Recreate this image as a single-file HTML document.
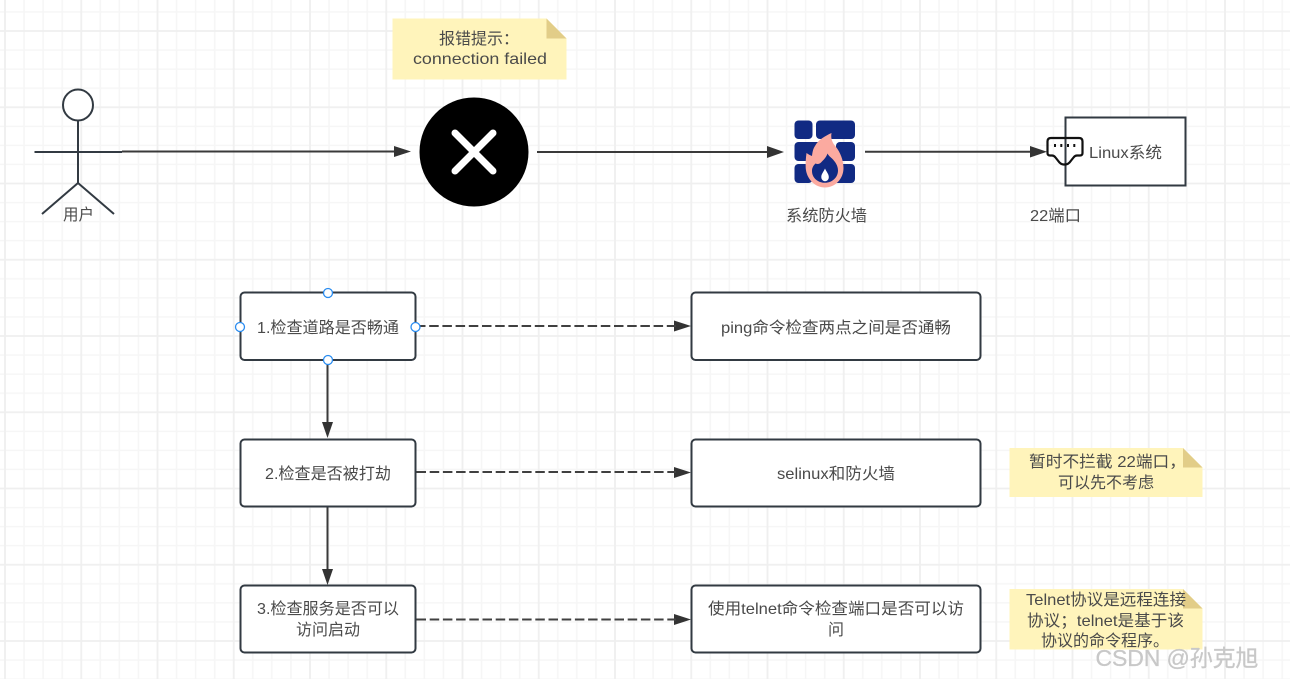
<!DOCTYPE html>
<html><head><meta charset="utf-8">
<style>
html,body{margin:0;padding:0;background:#fff;width:1290px;height:679px;overflow:hidden}
svg{display:block}
text{font-family:"Liberation Sans","Noto Sans CJK SC",sans-serif;font-size:16px;fill:#4a4a4a;text-anchor:middle}
</style></head><body>
<svg width="1290" height="679" viewBox="0 0 1290 679" xmlns="http://www.w3.org/2000/svg">
<defs>
<pattern id="g" x="5" y="31" width="76.25" height="76.25" patternUnits="userSpaceOnUse">
<path d="M19.06 0V76.25M38.12 0V76.25M57.19 0V76.25M0 19.06H76.25M0 38.12H76.25M0 57.19H76.25" stroke="#f6f6f6" stroke-width="1.6" fill="none"/>
<path d="M0 0V76.25M76.25 0V76.25M0 0H76.25M0 76.25H76.25" stroke="#efefef" stroke-width="1.8" fill="none"/>
</pattern>
</defs>
<rect width="1290" height="679" fill="#fff"/>
<rect width="1290" height="679" fill="url(#g)"/>

<!-- actor -->
<g fill="none" stroke="#323a42" stroke-width="2">
<ellipse cx="78" cy="105" rx="15" ry="15.5" fill="#fff"/>
<path d="M78 120.500V183M34.500 152H122M78 183L42 214M78 183L114 214"/>
</g>
<text x="78.500" y="220" textLength="31" lengthAdjust="spacingAndGlyphs">用户</text>

<!-- solid arrows -->
<g stroke="#3a3a3a" stroke-width="2" fill="none">
<path d="M122 151.500H396"/><path d="M537 152H769"/><path d="M865 151.700H1032"/>
<path d="M327.500 360V423"/><path d="M327.500 507V570"/>
</g>
<g fill="#333">
<path d="M394 146L411 151.500L394 157Z"/>
<path d="M767 146L784 152L767 158Z"/>
<path d="M1030 146L1047 151.700L1030 157.500Z"/>
<path d="M322 422H333L327.500 438Z"/>
<path d="M322 569H333L327.500 585Z"/>
<path d="M674 320.500L691 326L674 331.500Z"/>
<path d="M674 467L691 472.500L674 478Z"/>
<path d="M674 614L691 619.500L674 625Z"/>
</g>
<g stroke="#404040" stroke-width="2" fill="none" stroke-dasharray="9.500 3.700">
<path d="M416 326H676"/><path d="M416.500 472H676"/><path d="M416.500 619.500H676"/>
</g>

<!-- note top -->
<path d="M392.500 18.500H546.500L566.500 38.500V79.500H392.500Z" fill="#fff4bb"/>
<path d="M546.500 18.500L566.500 38.500H546.500Z" fill="#e2cd88"/>
<text x="479" y="44" textLength="80" lengthAdjust="spacingAndGlyphs">报错提示&#xFF1A;</text>
<text x="480" y="64" textLength="134" lengthAdjust="spacingAndGlyphs">connection failed</text>

<!-- X circle -->
<circle cx="474" cy="152" r="54.500" fill="#000"/>
<path d="M455 133L493 171M493 133L455 171" stroke="#fff" stroke-width="7" stroke-linecap="round"/>

<!-- firewall -->
<g fill="#112a83">
<rect x="794.500" y="120.500" width="18" height="18.500" rx="4"/>
<rect x="816" y="120.500" width="39" height="18.500" rx="4"/>
<rect x="794.500" y="142" width="39" height="19" rx="4"/>
<rect x="836" y="142" width="19" height="19" rx="4"/>
<rect x="794.500" y="164" width="18" height="19" rx="4"/>
<rect x="816" y="164" width="39" height="19" rx="4"/>
</g>
<path d="M831.500 133C825 136 818 140 815 146C813 149 812.500 152 812 156C810.500 155.500 808.500 154.500 806.500 153C805.800 158 805.500 163 805.700 168C806.500 179 815 187.500 825 187.500C835 187.500 843.500 179 843.500 168C843.500 160 840 152 836 147C832.500 143 830.500 139 831.500 133Z" fill="#fbaaa0"/>
<path d="M827.500 153.500C826.500 157 823.500 160 821 162.500C819.500 164 817.500 164.500 815.500 163.500C813 166 812 168 812 171C812 178 818 182.800 825 182.800C832 182.800 838 177.500 838 170.500C838 165.500 835 161.500 832 158.500C830 156.800 828.500 155.500 827.500 153.500Z" fill="#112a83"/>
<path d="M825 168.500C823.500 172 821.300 174 821.300 177C821.300 179.500 823 181.200 825 181.200C827.300 181.200 828.800 179.500 828.800 177C828.800 174 826.500 172 825 168.500Z" fill="#fff"/>
<text x="826.500" y="221" textLength="81" lengthAdjust="spacingAndGlyphs">系统防火墙</text>

<!-- Linux box -->
<rect x="1065.500" y="117.500" width="120" height="68" fill="#fff" stroke="#323a42" stroke-width="2"/>
<text x="1125.500" y="158" textLength="73" lengthAdjust="spacingAndGlyphs">Linux系统</text>
<path d="M1051 138H1079Q1082.500 138 1082.500 141.500V153Q1082.500 155.500 1080 155.500H1077Q1075 155.500 1073.500 157.500L1069.500 162.500Q1067.500 164.500 1065.500 164.500H1063.500Q1061.500 164.500 1059.500 162.500L1055.500 157.500Q1054 155.500 1052 155.500H1050Q1047.500 155.500 1047.500 153V141.500Q1047.500 138 1051 138Z" fill="none" stroke="#111" stroke-width="2.200"/>
<path d="M1055 144V147M1061.300 144V147M1068 144V147M1074.300 144V147" stroke="#111" stroke-width="2"/>
<text x="1055.500" y="221" textLength="51" lengthAdjust="spacingAndGlyphs">22端口</text>

<!-- boxes -->
<g fill="#fff" stroke="#323a42" stroke-width="2">
<rect x="240.500" y="292.500" width="175" height="67.500" rx="4"/>
<rect x="240.500" y="439.500" width="175" height="67" rx="4"/>
<rect x="240.500" y="585.500" width="175" height="67" rx="4"/>
<rect x="691.500" y="292.500" width="289" height="67.500" rx="4"/>
<rect x="691.500" y="439.500" width="289" height="67" rx="4"/>
<rect x="691.500" y="585.500" width="289" height="67" rx="4"/>
</g>
<text x="328" y="333" textLength="142" lengthAdjust="spacingAndGlyphs">1.检查道路是否畅通</text>
<text x="328" y="479" textLength="126" lengthAdjust="spacingAndGlyphs">2.检查是否被打劫</text>
<text x="328" y="614" textLength="142" lengthAdjust="spacingAndGlyphs">3.检查服务是否可以</text>
<text x="328" y="635" textLength="64" lengthAdjust="spacingAndGlyphs">访问启动</text>
<text x="836" y="333" textLength="230" lengthAdjust="spacingAndGlyphs">ping命令检查两点之间是否通畅</text>
<text x="836" y="479" textLength="118" lengthAdjust="spacingAndGlyphs">selinux和防火墙</text>
<text x="836" y="614" textLength="256" lengthAdjust="spacingAndGlyphs">使用telnet命令检查端口是否可以访</text>
<text x="836" y="635">问</text>

<!-- handles -->
<g fill="#fff" stroke="#2a8cf0" stroke-width="1.300">
<circle cx="328" cy="293" r="4.500"/><circle cx="240" cy="327" r="4.500"/>
<circle cx="415.500" cy="327" r="4.500"/><circle cx="328" cy="360" r="4.500"/>
</g>

<!-- note 2 -->
<path d="M1009.500 448H1183L1202.500 467.500V497H1009.500Z" fill="#fff4bb"/>
<path d="M1183 448L1202.500 467.500H1183Z" fill="#e2cd88"/>
<text x="1107.500" y="467" textLength="157" lengthAdjust="spacingAndGlyphs">暂时不拦截 22端口&#xFF0C;</text>
<text x="1106" y="488" textLength="96" lengthAdjust="spacingAndGlyphs">可以先不考虑</text>

<!-- note 3 -->
<path d="M1009.500 589H1183L1202.500 608.500V649.500H1009.500Z" fill="#fff4bb"/>
<path d="M1183 589L1202.500 608.500H1183Z" fill="#e2cd88"/>
<text x="1106" y="605" textLength="160" lengthAdjust="spacingAndGlyphs">Telnet协议是远程连接</text>
<text x="1105.500" y="626" textLength="157" lengthAdjust="spacingAndGlyphs">协议&#xFF1B;telnet是基于该</text>
<text x="1105" y="646" textLength="128">协议的命令程序。</text>

<!-- watermark -->
<text x="1177" y="666" textLength="163" style="font-size:23px;fill:#c8c8c8;stroke:#c8c8c8;stroke-width:.3">CSDN @孙克旭</text>
</svg>
</body></html>
